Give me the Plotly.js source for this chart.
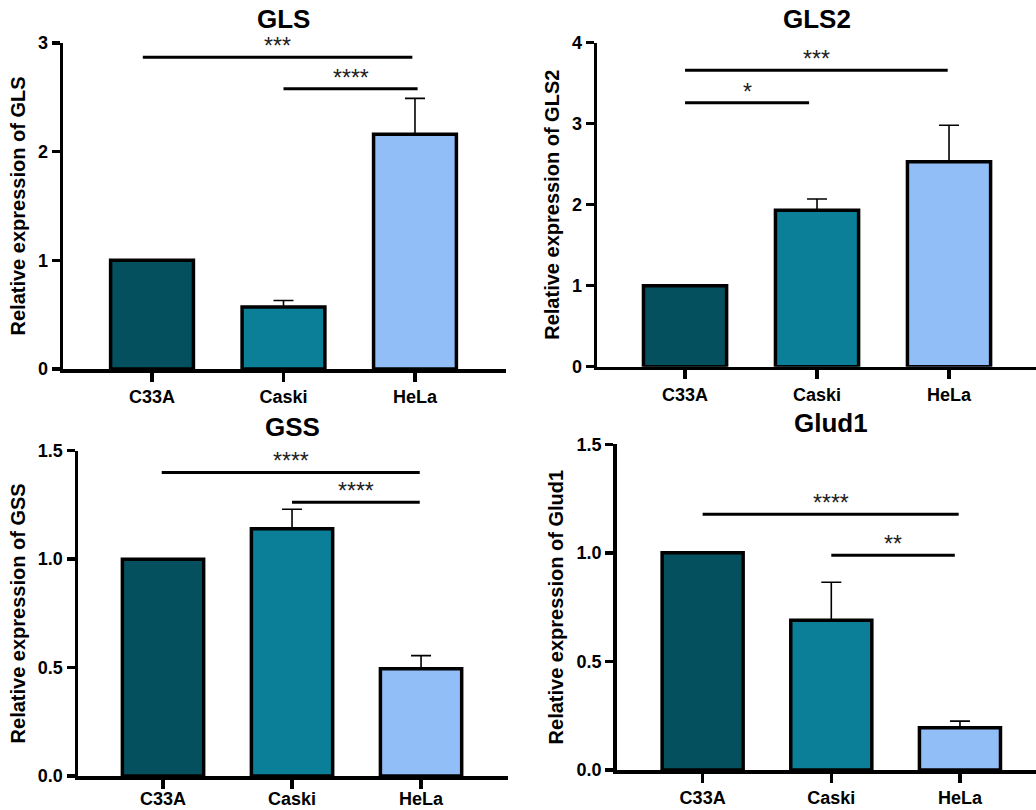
<!DOCTYPE html>
<html>
<head>
<meta charset="utf-8">
<script src="https://cdn.plot.ly/plotly-3.0.1.min.js"></script>
<style>html,body{margin:0;padding:0;background:#fff;}#chart{width:1036px;height:810px;}</style>
</head>
<body>
<div id="chart"></div>
<script>
// ---- data ----
const categories = ['C33A', 'Caski', 'HeLa'];

const glsMean = [1.0, 0.57, 2.16];
const glsErr = [0, 0.06, 0.33];
const gls2Mean = [1.0, 1.93, 2.53];
const gls2Err = [0, 0.14, 0.45];
const gssMean = [1.0, 1.14, 0.495];
const gssErr = [0, 0.09, 0.06];
const glud1Mean = [1.0, 0.69, 0.195];
const glud1Err = [0, 0.175, 0.03];

const panelTitles = ['GLS', 'GLS2', 'GSS', 'Glud1'];
const yTitles = ['Relative expression of GLS', 'Relative expression of GLS2',
                 'Relative expression of GSS', 'Relative expression of Glud1'];
const yTicks1 = [0, 1, 2, 3];
const yTicks2 = [0, 1, 2, 3, 4];
const yTicks3 = [0, 0.5, 1.0, 1.5];
const yTicks4 = [0, 0.5, 1.0, 1.5];

// significance brackets: from / to (category index), height, label
const glsSigFrom = [-0.07, 1.0];
const glsSigTo = [1.98, 2.02];
const glsSigY = [2.87, 2.58];
const glsSigLabel = ['***', '****'];
const gls2SigFrom = [0.0, 0.0];
const gls2SigTo = [1.99, 0.94];
const gls2SigY = [3.66, 3.26];
const gls2SigLabel = ['***', '*'];
const gssSigFrom = [-0.01, 1.0];
const gssSigTo = [1.99, 1.99];
const gssSigY = [1.40, 1.262];
const gssSigLabel = ['****', '****'];
const glud1SigFrom = [0.0, 1.0];
const glud1SigTo = [1.99, 1.96];
const glud1SigY = [1.178, 0.989];
const glud1SigLabel = ['****', '**'];

// ---- styling ----
const barColors = ['#05505f', '#0a7f97', '#92bef8'];
const FONT = 'Liberation Sans, Arial, Helvetica, sans-serif';

const panels = [
  {mean: glsMean, err: glsErr, sf: glsSigFrom, st: glsSigTo, sy: glsSigY, sl: glsSigLabel,
   xd: [63/1036, 505.7/1036], yd: [1-369/810, 1-43/810], xr: [-0.677, 2.690], yr: [0, 3], tv: yTicks1, fmt: 'd', ty: 1-19/810, ls: 0},
  {mean: gls2Mean, err: gls2Err, sf: gls2SigFrom, st: gls2SigTo, sy: gls2SigY, sl: gls2SigLabel,
   xd: [597/1036, 1], yd: [1-366.7/810, 1-42.7/810], xr: [-0.667, 2.659], yr: [0, 4], tv: yTicks2, fmt: 'd', ty: 1-19/810, ls: 0},
  {mean: gssMean, err: gssErr, sf: gssSigFrom, st: gssSigTo, sy: gssSigY, sl: gssSigLabel,
   xd: [78/1036, 508/1036], yd: [1-776/810, 1-450.7/810], xr: [-0.659, 2.674], yr: [0, 1.5], tv: yTicks3, fmt: '.1f', ty: 1-427/810, ls: -5},
  {mean: glud1Mean, err: glud1Err, sf: glud1SigFrom, st: glud1SigTo, sy: glud1SigY, sl: glud1SigLabel,
   xd: [616.7/1036, 1], yd: [1-770/810, 1-444.3/810], xr: [-0.668, 2.591], yr: [0, 1.5], tv: yTicks4, fmt: '.1f', ty: 1-423/810, ls: 0}
];

const data = [];
const layout = {
  width: 1036, height: 810,
  margin: {l: 0, r: 0, t: 0, b: 0},
  paper_bgcolor: '#ffffff', plot_bgcolor: 'rgba(0,0,0,0)',
  showlegend: false,
  shapes: [], annotations: []
};

panels.forEach((p, i) => {
  const n = i + 1;
  const xa = 'x' + (n === 1 ? '' : n);
  const ya = 'y' + (n === 1 ? '' : n);
  data.push({
    type: 'bar', x: categories, y: p.mean, xaxis: xa, yaxis: ya,
    width: 0.63,
    marker: {color: barColors, line: {color: '#000', width: 3.5}},
    error_y: {type: 'data', symmetric: false, array: p.err, arrayminus: [0, 0, 0],
              color: '#000', thickness: 1.6, width: 10},
    hoverinfo: 'skip'
  });
  layout['xaxis' + (n === 1 ? '' : n)] = {
    domain: p.xd, anchor: ya, type: 'category', range: p.xr,
    showline: true, linewidth: 3.5, linecolor: '#000',
    ticks: 'outside', ticklen: 9, tickwidth: 3.5, tickcolor: '#000',
    ticklabelstandoff: p.ls,
    showgrid: false, zeroline: false,
    tickfont: {family: FONT, size: 18, color: '#000', weight: 'bold'}
  };
  layout['yaxis' + (n === 1 ? '' : n)] = {
    domain: p.yd, anchor: xa, range: p.yr, tickvals: p.tv, tickformat: p.fmt,
    showline: true, linewidth: 3.5, linecolor: '#000',
    ticks: 'outside', ticklen: 8, tickwidth: 3.5, tickcolor: '#000',
    showgrid: false, zeroline: false,
    tickfont: {family: FONT, size: 18, color: '#000', weight: 'bold'},
    title: {text: yTitles[i], font: {family: FONT, size: 20, color: '#000', weight: 'bold'}, standoff: 8}
  };
  layout.annotations.push({
    text: panelTitles[i], xref: xa, yref: 'paper', x: 1, y: p.ty,
    xanchor: 'center', yanchor: 'middle', showarrow: false, borderpad: 0,
    font: {family: FONT, size: 26, color: '#000', weight: 'bold'}
  });
  p.sy.forEach((h, k) => {
    layout.shapes.push({
      type: 'line', xref: xa, yref: ya, x0: p.sf[k], x1: p.st[k], y0: h, y1: h,
      line: {color: '#000', width: 3}
    });
    layout.annotations.push({
      text: p.sl[k], xref: xa, yref: ya, x: (p.sf[k] + p.st[k]) / 2, y: h,
      xanchor: 'center', yanchor: 'bottom', yshift: -3, showarrow: false, borderpad: 0,
      font: {family: FONT, size: 23, color: '#222'}
    });
  });
});

Plotly.newPlot('chart', data, layout, {displayModeBar: false, staticPlot: true});
</script>
</body>
</html>
